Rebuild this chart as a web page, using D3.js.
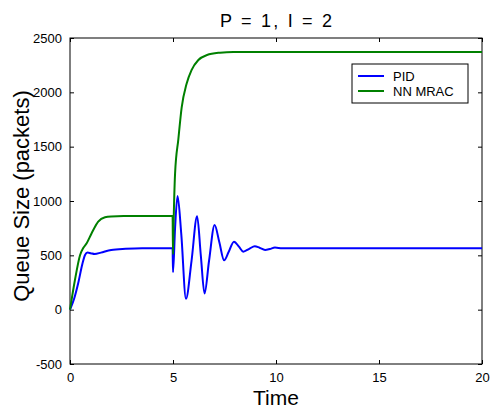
<!DOCTYPE html>
<html>
<head>
<meta charset="utf-8">
<script src="https://cdn.jsdelivr.net/npm/d3@7"></script>
<style>
  body { margin: 0; background: #fff; }
  text { font-family: "Liberation Sans", Arial, Helvetica, sans-serif; }
</style>
</head>
<body>
<div id="graph"></div>
<script>
// values
var pidTime  = [0, 0.2, 0.4, 0.6, 0.73, 0.85, 1.0, 1.2, 1.5, 2.0, 2.7, 3.5, 4.98, 5.0, 5.1, 5.22, 5.4, 5.63, 5.9, 6.17, 6.35, 6.53, 6.75, 7.02, 7.25, 7.48, 7.7, 7.96, 8.2, 8.41, 8.7, 8.97, 9.2, 9.47, 9.7, 9.95, 10.3, 20];
var pidQueue = [0, 100, 245, 420, 503, 525, 520, 512, 525, 550, 560, 565, 565, 345, 750, 1046, 700, 100, 450, 860, 500, 148, 450, 779, 620, 455, 530, 626, 580, 534, 560, 584, 570, 550, 558, 571, 565, 565];

var mracTime  = [0, 0.24, 0.49, 0.65, 0.81, 1.05, 1.37, 1.7, 2.0, 2.6, 3.5, 4.98, 5.0, 5.03, 5.1, 5.26, 5.42, 5.66, 5.9, 6.23, 6.65, 7.28, 7.93, 9, 20];
var mracQueue = [0, 273, 503, 570, 611, 703, 810, 850, 858, 862, 862, 862, 510, 800, 1250, 1570, 1860, 2080, 2205, 2298, 2343, 2365, 2372, 2372, 2372];

var seriesNames = ["PID", "NN MRAC"];
var seriesColors = ["#0000ff", "#008000"];
var xTicks = [0, 5, 10, 15, 20];
var yTicks = [-500, 0, 500, 1000, 1500, 2000, 2500];

var width = 491;
var height = 410;
var plotLeft = 70, plotRight = 482, plotTop = 38, plotBottom = 364;

var svg = d3.select('#graph')
    .append('svg')
    .attr('width', width)
    .attr('height', height);

var scaleX = d3.scaleLinear().domain([0, 20]).range([plotLeft, plotRight]);
var scaleY = d3.scaleLinear().domain([-500, 2500]).range([plotBottom, plotTop]);

// plain labels, hyphen minus like the original
var plain = function(d) { return String(d); };

// axes box with inward ticks on all four sides
var xAxis = d3.axisBottom(scaleX).tickValues(xTicks).tickFormat(plain).tickSizeInner(-4).tickSizeOuter(0).tickPadding(9);
var yAxis = d3.axisLeft(scaleY).tickValues(yTicks).tickFormat(plain).tickSizeInner(-4).tickSizeOuter(0).tickPadding(8);
var xTop = d3.axisTop(scaleX).tickValues(xTicks).tickSizeInner(-4).tickSizeOuter(0).tickFormat("");
var yRight = d3.axisRight(scaleY).tickValues(yTicks).tickSizeInner(-4).tickSizeOuter(0).tickFormat("");

svg.append("g").attr("transform", "translate(0," + plotBottom + ")").call(xAxis);
svg.append("g").attr("transform", "translate(" + plotLeft + ",0)").call(yAxis);
svg.append("g").attr("transform", "translate(0," + plotTop + ")").call(xTop);
svg.append("g").attr("transform", "translate(" + plotRight + ",0)").call(yRight);

svg.selectAll(".tick text").attr("font-size", 13).attr("fill", "#000").attr("font-family", "Liberation Sans, Arial, sans-serif");
svg.selectAll(".domain").remove();
svg.selectAll(".tick line").attr("stroke", "#000");

svg.append("rect")
    .attr("x", plotLeft).attr("y", plotTop)
    .attr("width", plotRight - plotLeft).attr("height", plotBottom - plotTop)
    .attr("fill", "none").attr("stroke", "#000").attr("stroke-width", 1);

var line = d3.line()
    .x(function(d) { return scaleX(d[0]); })
    .y(function(d) { return scaleY(d[1]); })
    .curve(d3.curveMonotoneX);

var series = [
    d3.zip(pidTime, pidQueue),
    d3.zip(mracTime, mracQueue)
];

svg.append("g")
    .selectAll("path")
    .data(series)
    .enter()
    .append("path")
    .attr("d", line)
    .attr("fill", "none")
    .attr("stroke", function(d, i) { return seriesColors[i]; })
    .attr("stroke-width", 2)
    .attr("stroke-linejoin", "round");

// title and axis labels
svg.append("text")
    .attr("x", (plotLeft + plotRight) / 2)
    .attr("y", 27)
    .attr("text-anchor", "middle")
    .attr("font-size", 18)
    .attr("textLength", 112)
    .attr("lengthAdjust", "spacing")
    .text("P = 1, I = 2");

svg.append("text")
    .attr("x", (plotLeft + plotRight) / 2)
    .attr("y", 405)
    .attr("text-anchor", "middle")
    .attr("font-size", 21)
    .text("Time");

svg.append("text")
    .attr("transform", "translate(29," + ((plotTop + plotBottom) / 2 - 5) + ") rotate(-90)")
    .attr("text-anchor", "middle")
    .attr("font-size", 22)
    .text("Queue Size (packets)");

// legend
var legend = svg.append("g");
legend.append("rect")
    .attr("x", 352).attr("y", 64)
    .attr("width", 116).attr("height", 39)
    .attr("fill", "#fff").attr("stroke", "#000");

var items = legend.selectAll("g")
    .data(seriesNames)
    .enter()
    .append("g")
    .attr("transform", function(d, i) { return "translate(0," + (76 + i * 15) + ")"; });

items.append("line")
    .attr("x1", 358).attr("x2", 384)
    .attr("stroke", function(d, i) { return seriesColors[i]; })
    .attr("stroke-width", 2);

items.append("text")
    .attr("x", 393).attr("y", 4.5)
    .attr("font-size", 13)
    .text(function(d) { return d; });
</script>
</body>
</html>
